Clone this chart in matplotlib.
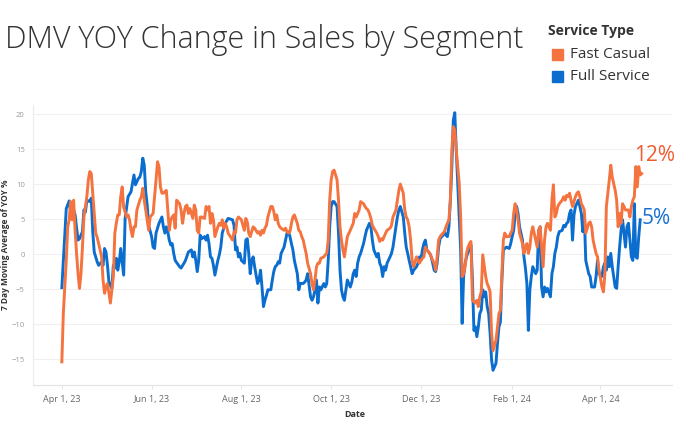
import matplotlib
matplotlib.use("Agg")
import matplotlib.pyplot as plt
import matplotlib.dates as mdates
from matplotlib.patches import Rectangle
from matplotlib.ticker import FuncFormatter
import pandas as pd

# data (days since Apr 1, 2023 -> 7 day avg YOY %)
start = pd.Timestamp("2023-04-01")

full_days = [0, 3, 5, 6, 8, 9, 11, 12, 14, 15, 16, 17, 19, 20, 21, 22, 24, 25, 27, 28, 29, 30, 31, 32, 34, 35, 36, 37, 38, 39,
             40, 41, 42, 43, 45, 47, 48, 49, 50, 52, 53, 54, 55, 56, 57, 58, 59, 61, 62, 63, 64, 66, 68, 69, 70, 71, 72, 73, 74, 75,
             76, 77, 80, 81, 83, 84, 86, 88, 89, 90, 91, 92, 93, 94, 95, 97, 98, 99, 100, 101, 102, 103, 104, 106, 107, 108, 109, 111, 113, 116,
             117, 118, 119, 120, 121, 122, 124, 125, 126, 127, 128, 129, 130, 131, 133, 134, 135, 136, 137, 138, 139, 140, 142, 143, 144, 145, 146, 147, 148, 149,
             151, 152, 153, 154, 155, 156, 157, 158, 160, 161, 162, 163, 164, 165, 166, 167, 169, 170, 171, 172, 173, 174, 175, 176, 178, 179, 180, 181, 182, 183,
             184, 185, 187, 188, 189, 190, 191, 192, 193, 194, 196, 197, 198, 199, 200, 201, 202, 203, 205, 206, 207, 208, 209, 210, 211, 212, 214, 215, 216, 217,
             218, 219, 220, 221, 223, 224, 225, 226, 227, 228, 229, 230, 232, 233, 234, 235, 236, 237, 238, 239, 241, 242, 243, 244, 245, 246, 247, 248, 250, 251,
             252, 253, 254, 255, 256, 257, 259, 260, 261, 262, 263, 264, 265, 266, 267, 268, 269, 270, 271, 272, 273, 274, 275, 276, 277, 278, 279, 280, 281, 282,
             283, 284, 285, 286, 287, 288, 289, 290, 291, 292, 293, 295, 296, 297, 298, 299, 300, 301, 302, 304, 305, 306, 307, 308, 309, 310, 311, 313, 314, 315,
             316, 317, 318, 319, 320, 322, 323, 324, 325, 326, 327, 328, 329, 330, 332, 333, 334, 335, 336, 337, 338, 340, 341, 342, 343, 344, 345, 346, 347, 348,
             349, 351, 352, 353, 354, 355, 356, 358, 359, 360, 361, 362, 363, 364, 365, 367, 368, 369, 370, 371, 372, 373, 374, 376, 377, 378, 379, 380, 381, 382,
             383, 384, 385, 386, 387, 388, 389, 390, 391, 392, 393]
full_vals = [-4.8, 6.5, 7.6, 6.0, 6.3, 5.6, 2.0, 2.2, 3.2, 6.3, 6.0, 7.7, 7.5, 8.0, 3.2, 0.3, -1.1, -1.6, -1.1, -1.6, 0.8, 0.3, -1.6, -4.0, -4.9, -1.6, -2.0, -0.6, -2.3, -1.1,
             0.8, -1.1, -3.0, 5.1, 8.2, 8.9, 10.1, 11.3, 9.9, 10.8, 11.0, 11.8, 13.7, 12.7, 8.9, 7.0, 4.1, 2.5, 1.0, 0.8, 3.0, 4.4, 5.3, 3.9, 3.0, 3.9, 3.2, 2.0, 1.3, 1.5,
             0.1, -0.9, -1.8, -2.0, -1.3, -0.9, 0.3, 0.6, -0.4, 0.3, -0.9, -2.5, -0.9, 2.7, 2.2, 2.5, 2.0, 2.7, 1.5, -0.4, -0.6, -1.6, -3.0, -0.9, -0.1, 1.0, 3.0, 4.4, 5.1, 4.9,
             4.1, 0.6, 1.0, -0.4, 0.1, -0.9, -1.3, 2.0, 2.2, 0.1, -2.8, -0.9, -0.4, -1.8, -4.2, -3.7, -2.3, -4.7, -7.5, -6.6, -5.9, -5.1, -5.1, -3.7, -2.5, -1.8, -1.6, -1.1, -1.3, 0.1,
             1.0, 2.0, 3.0, 3.2, 2.5, 1.5, 0.6, -0.9, -2.8, -5.1, -4.2, -4.2, -4.2, -4.0, -3.7, -2.8, -6.1, -6.6, -6.1, -5.1, -3.7, -7.0, -4.7, -5.1, -4.2, -4.7, -4.2, -0.9, 3.9, 6.8,
             7.5, 7.5, 6.8, 3.0, -2.3, -5.1, -6.1, -6.6, -5.1, -3.7, -4.7, -4.0, -2.8, -2.3, -3.2, -1.3, -0.4, 0.1, 1.5, 2.5, 3.4, 3.9, 4.4, 3.9, 2.0, 0.6, -0.4, 0.1, -1.3, -1.8,
             -3.2, -1.8, -2.3, -1.3, -0.4, 0.1, 1.0, 2.5, 3.9, 5.3, 6.3, 6.8, 5.3, 3.0, 1.0, 0.1, -0.9, -1.8, -2.8, -2.3, -1.8, -1.3, -0.4, -0.9, 0.6, 1.5, 2.0, 0.6, 0.1, -0.4,
             -1.3, -2.3, -2.5, -1.3, 1.0, 2.2, 2.7, 3.2, 2.7, 2.5, 3.9, 7.7, 12.5, 19.1, 20.2, 14.9, 10.1, 5.0, 0.6, -9.9, -3.2, -1.3, -0.4, 0.3, 0.6, 1.3, -3.7, -10.9, -10.4, -11.8,
             -10.4, -8.5, -8.0, -5.1, -6.1, -5.4, -7.5, -8.5, -11.3, -15.1, -16.6, -15.6, -12.8, -10.4, -9.7, -3.7, 0.6, 0.8, 1.0, 0.8, 1.5, 2.5, 3.4, 5.6, 6.8, 5.8, 3.9, 2.0, -0.4, -2.0,
             -4.2, -10.9, -5.1, -3.2, -1.8, -2.8, -2.3, 3.4, 3.9, -4.7, -6.1, -4.7, -5.4, -4.9, -6.1, -2.8, -1.8, 0.1, 1.0, 2.5, 3.2, 3.4, 4.1, 3.9, 4.4, 4.6, 5.8, 6.3, 2.0, 5.6,
             6.8, 7.7, 6.8, 5.8, 3.2, 5.6, -0.9, -2.8, -3.2, -4.7, -4.7, -4.7, -3.2, -0.9, -2.8, -3.2, -1.8, -1.3, -2.3, -0.4, -1.8, 0.1, -1.8, -4.7, -4.9, -1.8, 1.0, 3.4, 4.9, 3.0,
             1.0, 3.9, 4.4, 2.0, -0.4, -0.9, 7.2, -0.4, -0.6, 2.5, 4.9]

fast_days = [0, 1, 3, 4, 5, 6, 7, 8, 9, 10, 11, 12, 13, 14, 15, 17, 18, 19, 20, 21, 22, 23, 24, 26, 27, 28, 29, 30, 31, 32,
             33, 35, 36, 37, 38, 39, 40, 41, 42, 44, 45, 46, 47, 48, 49, 50, 51, 53, 54, 55, 56, 57, 58, 59, 60, 62, 63, 64, 65, 66,
             67, 68, 69, 71, 72, 73, 74, 75, 76, 77, 78, 80, 81, 82, 83, 84, 85, 86, 87, 89, 90, 91, 92, 93, 94, 95, 97, 98, 99, 100,
             101, 102, 103, 104, 106, 107, 108, 109, 110, 111, 112, 113, 116, 117, 118, 119, 120, 121, 122, 124, 125, 126, 127, 128, 129, 130, 131, 133, 134, 135,
             136, 137, 138, 139, 140, 142, 143, 144, 145, 146, 147, 148, 149, 151, 152, 153, 154, 155, 156, 157, 158, 160, 161, 162, 163, 164, 165, 166, 167, 169,
             170, 171, 172, 173, 174, 175, 176, 178, 179, 180, 181, 182, 183, 184, 185, 187, 188, 189, 190, 191, 192, 193, 194, 196, 197, 198, 199, 200, 201, 202,
             203, 205, 206, 207, 208, 209, 210, 211, 212, 214, 215, 216, 217, 218, 219, 220, 221, 223, 224, 225, 226, 227, 228, 229, 230, 232, 233, 234, 235, 236,
             237, 238, 239, 241, 242, 243, 244, 245, 246, 247, 248, 250, 251, 252, 253, 254, 255, 256, 257, 259, 260, 261, 262, 263, 264, 265, 266, 267, 268, 270,
             271, 272, 273, 274, 275, 276, 277, 278, 279, 281, 282, 283, 284, 285, 286, 288, 289, 290, 291, 292, 293, 295, 296, 297, 298, 299, 300, 301, 302, 304,
             305, 306, 307, 308, 309, 310, 311, 313, 314, 315, 316, 317, 318, 319, 320, 322, 323, 324, 325, 327, 328, 329, 330, 332, 333, 334, 335, 336, 337, 338,
             340, 341, 342, 343, 344, 345, 346, 347, 349, 350, 351, 352, 353, 354, 355, 356, 358, 359, 360, 361, 362, 363, 364, 365, 367, 368, 369, 370, 371, 372,
             373, 374, 376, 377, 378, 379, 380, 381, 382, 383, 385, 386, 387, 388, 389, 390, 391, 392, 393, 394]
fast_vals = [-15.4, -8.5, -0.9, 3.9, 4.9, 7.5, 4.9, 7.7, 3.4, 0.1, -2.8, -4.9, -2.8, 1.0, 5.3, 8.2, 10.6, 11.8, 11.5, 8.7, 5.8, 3.0, 2.4, 0.6, -0.4, -3.7, -5.6, -4.7, -4.2, -5.6,
             -7.0, -3.2, 3.0, 4.4, 5.6, 5.6, 8.2, 9.6, 6.7, 5.3, 5.6, 4.9, 3.4, 2.5, 3.9, 3.9, 6.3, 7.7, 8.2, 9.4, 7.7, 6.3, 4.9, 3.4, 5.3, 5.8, 8.2, 10.6, 13.2, 12.5,
             9.6, 8.7, 8.7, 9.1, 6.3, 3.4, 4.9, 5.3, 5.6, 3.7, 7.7, 7.2, 6.3, 4.4, 5.8, 6.8, 7.0, 5.8, 6.5, 5.1, 7.0, 6.3, 3.4, 3.0, 5.3, 5.3, 5.1, 6.8, 6.3, 6.8,
             4.4, 5.8, 4.9, 2.5, 3.9, 4.4, 4.1, 4.9, 3.7, 4.4, 3.9, 3.0, 2.0, 3.2, 3.0, 4.9, 5.3, 5.1, 4.9, 3.4, 5.1, 4.6, 3.0, 2.5, 3.2, 3.9, 3.7, 3.0, 3.2, 2.7,
             3.4, 3.0, 3.7, 4.1, 5.3, 6.8, 6.8, 6.1, 4.9, 5.6, 4.4, 3.9, 3.7, 3.4, 3.7, 3.2, 3.0, 3.2, 4.4, 5.3, 5.6, 4.4, 3.4, 3.2, 2.5, 2.0, 1.0, 0.1, -1.3, -2.8,
             -4.2, -5.1, -3.7, -1.8, -1.3, -1.3, -0.6, -0.4, -0.1, 0.1, 2.0, 7.7, 10.6, 11.8, 12.0, 10.6, 7.7, 3.9, 2.0, 0.6, -0.4, 1.0, 2.5, 3.4, 3.9, 4.4, 5.8, 5.3, 5.8, 6.3,
             7.5, 7.2, 6.8, 6.5, 6.3, 5.8, 5.1, 4.1, 3.7, 3.0, 2.5, 1.8, 2.2, 2.0, 2.5, 3.0, 3.4, 3.7, 4.1, 5.3, 5.8, 6.3, 7.7, 9.1, 10.0, 8.7, 6.3, 5.3, 4.9, 3.9,
             2.0, -0.9, -1.8, -0.4, -0.9, -1.3, -0.9, -0.6, -0.4, 1.0, 0.6, 0.1, -0.4, -0.9, -1.3, -2.3, -0.4, 2.0, 2.5, 3.0, 3.2, 3.9, 4.4, 4.9, 7.7, 14.9, 18.2, 17.7, 14.9, 10.1,
             5.3, -3.2, -2.8, -1.8, 0.1, 1.0, 1.5, 1.8, -6.6, -7.0, -6.6, -7.5, -6.1, -5.4, -0.1, -3.2, -4.2, -4.7, -5.4, -11.3, -13.8, -12.3, -10.5, -8.5, -8.0, -2.8, 2.0, 3.0, 2.5, 2.5,
             3.0, 3.4, 5.8, 7.2, 6.3, 4.9, 3.0, 1.5, 0.1, 1.0, 1.5, 0.1, 1.0, 3.0, 3.9, 2.0, 1.0, 3.4, 3.9, -1.8, 2.0, 3.9, 4.4, 3.4, 7.7, 9.9, 5.3, 5.8, 6.8, 7.2,
             7.7, 8.2, 7.7, 8.4, 8.2, 8.7, 7.7, 6.8, 8.2, 8.7, 8.9, 8.2, 7.2, 6.8, 6.3, 3.0, 4.4, 4.6, 3.9, 2.0, 1.0, 0.1, -0.4, -2.3, -4.7, -5.4, -2.8, 6.8, 8.7, 10.6,
             12.7, 11.0, 9.1, 7.7, 3.9, 5.8, 4.4, 7.2, 6.8, 6.3, 6.3, 5.3, 6.8, 7.7, 8.2, 12.5, 9.6, 12.5, 11.3, 11.5]

y_ticks = [-15, -10, -5, 0, 5, 10, 15, 20]
tick_dates = ["2023-04-01", "2023-06-01", "2023-08-01", "2023-10-01", "2023-12-01", "2024-02-01", "2024-04-01"]

orange = "#F4733F"
blue = "#0B6ECF"

full_dates = start + pd.to_timedelta(full_days, unit="D")
fast_dates = start + pd.to_timedelta(fast_days, unit="D")

plt.rcParams["font.family"] = ["Open Sans", "DejaVu Sans"]

fig = plt.figure(figsize=(6.76, 4.41), dpi=100)
ax = fig.add_axes([33 / 676, 56 / 441, 639 / 676, 280 / 441])

ax.plot(full_dates, full_vals, color=blue, lw=2.1, solid_joinstyle="round", zorder=3)
ax.plot(fast_dates, fast_vals, color=orange, lw=2.1, solid_joinstyle="round", zorder=4)

ax.set_ylim(-18.7, 21.3)
ax.set_xlim(start - pd.Timedelta(days=19.6), start + pd.Timedelta(days=414.6))
ax.set_yticks(y_ticks)
ax.set_xticks(pd.to_datetime(tick_dates))
ax.xaxis.set_major_formatter(FuncFormatter(
    lambda v, p: mdates.num2date(v).strftime("%b ") + str(mdates.num2date(v).day) + mdates.num2date(v).strftime(", %y")))

ax.grid(axis="y", color="#f0f0f0", lw=0.8)
ax.set_axisbelow(True)
for s in ["top", "right"]:
    ax.spines[s].set_visible(False)
ax.spines["left"].set_color("#ececec")
ax.spines["bottom"].set_color("#e2e2e2")
ax.tick_params(axis="y", length=0, labelsize=5.5, labelcolor="#9a9a9a", pad=6)
ax.tick_params(axis="x", length=3, color="#e6e6e6", labelsize=6.5, labelcolor="#666666", pad=4)

ax.set_ylabel("7 Day Moving Average of YOY %", fontsize=6, fontweight="bold", color="#333333")
ax.yaxis.set_label_coords(-0.036, 0.5)
ax.set_xlabel("Date", fontsize=6.5, fontweight="bold", color="#333333")
ax.xaxis.set_label_coords(0.504, -0.089)

# end labels
ax.annotate("12%", (fast_dates[-1], fast_vals[-1]), xytext=(-5.4, 13.3), textcoords="offset points",
            ha="left", va="center", fontsize=15, color="#EF5B30")
ax.annotate("5%", (full_dates[-1], full_vals[-1]), xytext=(0.7, 1.2), textcoords="offset points",
            ha="left", va="center", fontsize=15, color="#1870CF")

# title and legend
fig.text(5 / 676, 1 - 48 / 441, "DMV YOY Change in Sales by Segment", fontsize=22, color="#333333",
         fontweight="light", va="baseline", ha="left")
fig.text(548 / 676, 1 - 31 / 441, "Service Type", fontsize=10, fontweight="bold", color="#333333", va="center")
for i, (name, col) in enumerate([("Fast Casual", orange), ("Full Service", blue)]):
    yc = 54 + 22 * i
    fig.patches.append(Rectangle((552 / 676, 1 - (yc + 5.5) / 441), 11 / 676, 11 / 441,
                                 transform=fig.transFigure, color=col, figure=fig))
    fig.text(570 / 676, 1 - yc / 441, name, fontsize=11, color="#333333", va="center")

fig.savefig("out.png", dpi=100)
